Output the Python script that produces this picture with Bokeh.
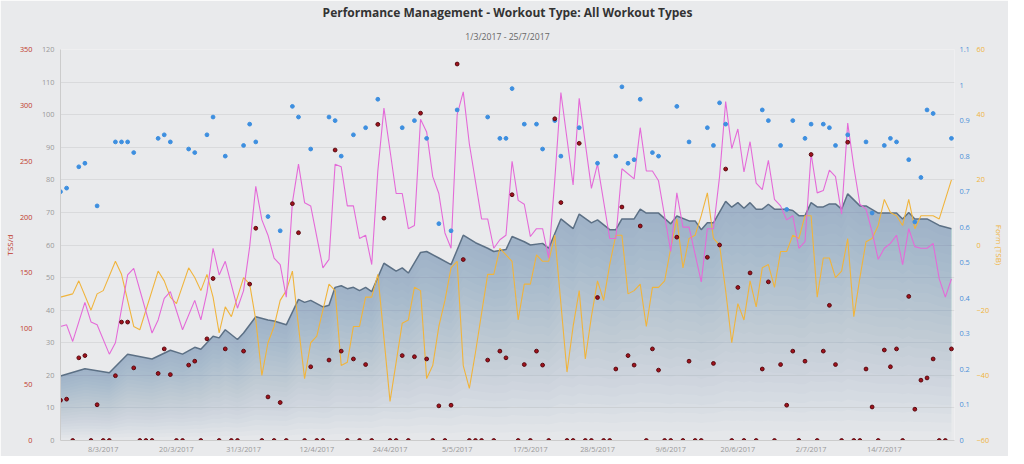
import pandas as pd
from bokeh.plotting import figure
from bokeh.models import Range1d, LinearAxis, FixedTicker, Title, DatetimeTickFormatter
from bokeh.embed import file_html
from bokeh.resources import INLINE

START = pd.Timestamp("2017-03-01")

ctl_days = [0,4,8,11,15,18,20,22,23,25,26,27,29,30,32,34,35,37,39,40,41,43,44,45,46,47,48,49,50,51,53,55,56,57,59,60,62,64,66,68,70,71,73,74,76,77,79,80,82,84,85,87,88,90,91,92,94,95,96,98,100,101,103,104,105,106,107,109,110,111,112,113,114,115,116,117,119,120,121,122,123,124,125,126,127,128,129,131,132,134,136,137,138,139,140,142,144,146]
ctl = [19.8,22,20.8,26.5,25,27.7,26.5,28.6,28,32,31.5,34,31,33,38,37,36.7,35.5,43.3,42.4,43,41,41.5,47,47.5,46.6,47,46,47,45.7,54.4,52,53,51.4,57.7,58,56,54,63,60.7,59,58,58.6,62.6,61,60,60.5,59,68,65,69.5,66.8,67.7,64.7,64.7,68,68,71,69.8,69.8,66.5,68.9,67.4,67.4,64.7,66.8,66.8,73.4,71.6,73,71.3,73,71,71,72.5,71,71,70.6,69,69,73,71.7,71.7,72.6,72.6,71,75.7,72,72,69.8,69.8,69.8,68,70,68,68,66,65]

atl_days = [0,1,2,4,5,6,8,9,11,12,15,16,17,18,20,22,23,24,25,26,27,29,30,31,32,33,34,35,36,37,38,39,40,41,43,44,45,46,47,48,49,50,51,52,53,54,55,56,57,58,59,60,61,62,63,64,65,66,67,69,70,71,72,73,74,75,76,77,78,79,80,81,82,84,85,87,88,90,91,92,94,95,96,97,98,100,101,102,103,105,106,107,108,109,110,111,112,113,114,115,116,117,118,119,120,121,122,123,124,125,126,127,128,129,130,131,132,133,134,135,136,137,138,139,140,141,142,143,144,145,146]
atl = [35,35.5,30.4,42.4,36.4,35.5,26.5,30,50.8,52.8,33,37,43.6,45.7,34,43,37,45.4,59,50.8,55,40.6,46,59.5,78,67.7,63,56,54,44,73,84.8,73,72,53,55.6,84.8,84,72,72,62,63,54,82.7,102,89,75.8,75.8,65,66,98.6,94.7,81,75.8,63.7,59,100,107,91,68,68,59,61.6,63,85.7,73.7,72.5,62.6,65,65,56,80,106.8,78.4,105,77.4,84.8,62,62,83.4,80.3,96,82.7,82.7,79.7,58,76,65.5,65.5,48.7,65,65,81,104,89.6,95.6,82.4,91.7,79,77,86,74,72,67.7,69,59,61,88,76,76.7,83,81,69.5,97.4,84,72.5,71,64,55.6,59,60.5,63,54,65,59.5,59,59,60.5,49.6,44,49.6]

tsb_days = [0,2,3,5,6,7,9,10,12,13,16,17,18,19,21,22,23,24,25,26,27,28,30,31,32,33,34,35,36,37,38,39,40,41,42,44,45,46,47,48,49,50,51,52,54,55,56,57,58,59,60,61,62,63,64,65,66,67,68,69,70,71,72,74,75,76,77,78,79,80,81,82,83,84,85,86,87,88,89,90,91,92,93,94,95,96,97,98,99,100,101,102,103,104,105,106,107,108,109,110,111,112,113,114,115,116,117,118,119,120,121,122,123,124,125,126,127,128,129,130,131,132,133,134,135,136,137,138,139,140,141,142,143,144,146]
tsb = [-16,-15,-11,-20,-15,-14,-5,-9,-25,-26,-8,-11,-16,-18,-7,-10,-14,-9,-16,-27,-19,-22,-10,-12,-23,-40,-30,-25,-17,-14,-8,-25,-41,-30,-28,-12,-14,-37,-36,-25,-25,-16,-16,-9,-48,-36,-24,-23,-13,-14,-41,-37,-25,-17,-7,-5,-37,-44,-33,-21,-9,-9,-1,-5,-23,-12,-12,-3,-5,-5,3,-18,-39,-25,-14,-35,-22,-11,-17,-6,3,3,-15,-14,-12,-25,-13,-13,-11,-1,8,-7,2,3,9,16,2,0,-14,-30,-18,-23,-11,-19,-7,-6,-13,-2,-2,3,2,9,9,-16,-4,-4,-10,-8,2,-22,-10,1,2,6,14,10,9,6,14,5,9,9,9,8,20]

if_days = [0,1,3,4,6,9,10,11,12,16,17,18,21,22,24,25,27,30,31,32,34,36,38,39,41,44,45,46,48,50,52,56,58,60,62,64,65,70,72,73,74,76,78,79,81,82,85,88,91,92,93,94,95,97,98,101,103,106,107,108,109,115,116,118,119,120,122,123,125,126,127,129,132,133,135,136,137,139,140,141,142,143,146]
if_vals = [.70,.71,.77,.78,.66,.84,.84,.84,.81,.85,.86,.84,.82,.81,.86,.91,.80,.83,.89,.84,.63,.59,.94,.91,.82,.91,.90,.80,.86,.88,.96,.88,.90,.85,.61,.59,.93,.91,.85,.85,.99,.89,.89,.82,.90,.80,.88,.78,.80,.995,.78,.79,.96,.81,.80,.94,.84,.88,.83,.95,.89,.93,.90,.83,.65,.90,.85,.89,.89,.88,.83,.86,.84,.64,.83,.85,.84,.79,.615,.74,.93,.92,.85]

tss_days = [0,1,3,4,6,9,10,11,12,16,17,18,21,22,24,25,27,30,31,32,34,36,38,39,41,44,45,46,48,50,52,53,56,58,59,60,62,64,65,66,70,72,73,74,76,78,79,81,82,85,88,91,92,93,94,95,97,98,101,103,106,107,108,109,111,113,115,116,118,119,120,122,123,125,126,127,129,132,133,135,136,137,139,140,141,142,143,146,
            2,5,7,8,13,14,15,19,20,23,26,28,29,33,35,37,40,42,43,47,49,51,54,55,57,61,63,67,68,69,71,75,77,80,83,84,86,87,89,90,96,99,100,102,104,105,110,112,114,117,121,124,128,130,131,134,138,144,145]
tss = [36,37,74,76,32,58,106,106,65,60,82,59,67.5,71,91,145,82,80,140,190,39,34,212,186,66,72,260,80,73,68,283,199,76,75,293,73,31,31.6,337,162,72,80,74,220,68,80,67.5,288,213,266,128,64,209,76,67.5,192,82,63,182,71,164,69,175,243,137,150,64,142,68,31.6,80,71,256,80,121,68,267,64,30,81,66,82,129,28,54,56,73,82] + [0]*59

tick_dates = ["2017-03-08","2017-03-20","2017-03-31","2017-04-12","2017-04-24","2017-05-05","2017-05-17","2017-05-28","2017-06-09","2017-06-20","2017-07-02","2017-07-14"]

def to_dt(days):
    return [START + pd.Timedelta(days=int(d)) for d in days]

GRAY = "#999999"
p = figure(width=1008, height=456, x_axis_type="datetime", output_backend="svg",
           toolbar_location=None, title=None,
           x_range=Range1d(START, START + pd.Timedelta(days=146.5)),
           y_range=Range1d(0, 120),
           background_fill_color="#e9eaec", border_fill_color="#e9eaec",
           min_border_left=0, min_border_right=0, min_border_top=0, min_border_bottom=0)
p.outline_line_color = None
p.extra_y_ranges = {"tss": Range1d(0, 350), "if": Range1d(0, 1.1), "tsb": Range1d(-60, 60)}

sub = Title(text="1/3/2017 - 25/7/2017", align="center", text_font_size="6.5pt",
            text_color="#666666", text_font_style="normal", text_font="Open Sans", standoff=14)
main = Title(text="Performance Management - Workout Type: All Workout Types", align="center",
             text_font_size="9pt", text_color="#333333", text_font_style="bold", text_font="Open Sans", standoff=2)
p.add_layout(sub, "above")
p.add_layout(main, "above")

# CTL area with top-darker shading
cx = to_dt(ctl_days)
n = 24
for k in range(n):
    lower = [v * (1 - (k + 1) / n) for v in ctl]
    p.varea(x=cx, y1=lower, y2=ctl, fill_color="#6a89ad", fill_alpha=0.022)
p.line(cx, ctl, line_color="#5c7085", line_width=1.5)

p.line(to_dt(tsb_days), tsb, y_range_name="tsb", line_color="#f0b43c", line_width=1.1)
p.line(to_dt(atl_days), atl, line_color="#e46ad8", line_width=1.1)
p.scatter(to_dt(if_days), if_vals, y_range_name="if", size=3.8, fill_color="#3d8fe0", line_color="#3d8fe0")
p.scatter(to_dt(tss_days), tss, y_range_name="tss", size=3.8, fill_color="#a0121c", line_color="#5a0a10")

def style(ax, color, label=None):
    ax.axis_line_color = None
    ax.major_tick_line_color = None
    ax.minor_tick_line_color = None
    ax.major_tick_out = 0
    ax.major_tick_in = 0
    ax.minor_tick_out = 0
    ax.major_label_text_font_size = "5.5pt"
    ax.major_label_text_color = color
    ax.major_label_text_font = "Open Sans"
    ax.major_label_standoff = 2
    if label:
        ax.axis_label = label
        ax.axis_label_standoff = 2
        ax.axis_label_text_font_size = "6pt"
        ax.axis_label_text_color = color
        ax.axis_label_text_font_style = "normal"
        ax.axis_label_text_font = "Open Sans"

p.yaxis[0].ticker = FixedTicker(ticks=list(range(0, 121, 10)))
style(p.yaxis[0], GRAY)
p.yaxis[0].axis_line_color = "#cccccc"
p.yaxis[0].major_label_standoff = 6

tss_ax = LinearAxis(y_range_name="tss", ticker=FixedTicker(ticks=list(range(0, 351, 50))))
style(tss_ax, "#c0392b", "TSS/d")
tss_ax.major_label_standoff = 6
p.add_layout(tss_ax, "left")

if_ax = LinearAxis(y_range_name="if", ticker=FixedTicker(ticks=[i / 10 for i in range(12)]))
style(if_ax, "#4a90d9")
if_ax.major_label_standoff = 5
p.add_layout(if_ax, "right")

tsb_ax = LinearAxis(y_range_name="tsb", ticker=FixedTicker(ticks=list(range(-60, 61, 20))))
style(tsb_ax, "#f0b43c", "Form (TSB)")
tsb_ax.major_label_standoff = 4
p.add_layout(tsb_ax, "right")

p.xaxis[0].ticker = FixedTicker(ticks=[pd.Timestamp(d).value / 1e6 for d in tick_dates])
p.xaxis[0].formatter = DatetimeTickFormatter(days="%-d/%-m/%Y", months="%-d/%-m/%Y")
style(p.xaxis[0], GRAY)
p.xaxis[0].major_label_standoff = 3
p.xaxis[0].axis_line_color = "#cccccc"

p.xgrid.grid_line_color = None
p.ygrid.grid_line_color = "#d9dadc"
p.ygrid.ticker = FixedTicker(ticks=list(range(0, 121, 10)))

open("out.html", "w").write(file_html(p, INLINE))
